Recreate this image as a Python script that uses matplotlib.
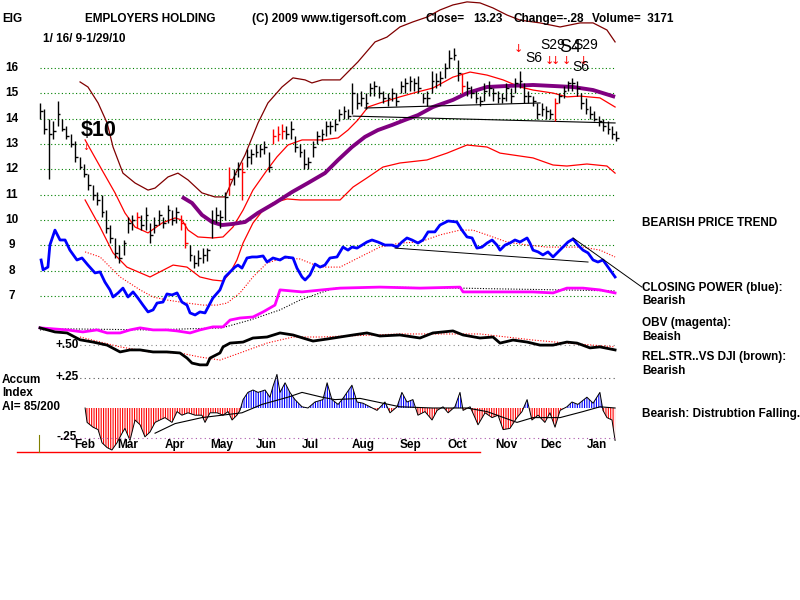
import numpy as np
import matplotlib
matplotlib.use("Agg")
import matplotlib.pyplot as plt

# ---- price bars, one every 2 trading days (day index, high, low, close)
bar_day = list(range(0, 264, 2))
bar_high = [14.6, 14.4, 14.0, 13.9, 14.7, 14.0, 13.7, 13.4, 13.1, 12.5, 12.2, 11.8, 11.4, 11.1, 11.0, 10.4,
            9.8, 9.3, 9.0, 9.2, 10.1, 10.2, 10.3, 10.2, 10.5, 9.9, 10.1, 10.4, 10.1, 10.6, 10.4, 10.5,
            10.2, 9.9, 9.0, 8.6, 8.8, 8.9, 8.9, 10.4, 10.5, 10.4, 11.1, 12.1, 12.0, 12.3, 12.3, 12.8,
            12.8, 13.0, 13.0, 13.1, 12.7, 13.6, 13.7, 13.8, 13.7, 13.9, 13.3, 13.0, 12.8, 12.5, 13.1, 13.5,
            13.6, 13.9, 13.9, 14.0, 14.4, 14.5, 14.4, 15.4, 15.0, 15.1, 15.0, 15.4, 15.5, 15.3, 15.1, 15.0,
            15.2, 15.0, 15.5, 15.6, 15.7, 15.6, 15.7, 15.0, 15.1, 15.9, 15.8, 15.9, 16.2, 16.7, 16.8, 16.3,
            15.8, 15.5, 15.3, 15.1, 14.9, 15.4, 15.5, 15.2, 15.1, 15.0, 15.4, 15.2, 15.6, 15.9, 15.4, 15.1,
            14.9, 14.6, 14.6, 14.5, 14.4, 14.8, 15.0, 15.3, 15.5, 15.6, 15.5, 15.0, 14.8, 14.5, 14.3, 14.1,
            14.0, 13.9, 13.7, 13.5]
bar_low = [14.0, 13.4, 11.6, 13.2, 13.7, 13.5, 13.2, 12.9, 12.3, 12.0, 11.7, 11.2, 10.8, 10.6, 10.1, 9.5,
           9.1, 8.5, 8.3, 8.6, 9.5, 9.6, 9.7, 9.6, 9.6, 9.1, 9.5, 9.8, 9.7, 9.9, 9.8, 9.9,
           9.6, 8.9, 8.4, 8.1, 8.2, 8.3, 8.4, 9.3, 9.9, 9.7, 10.0, 11.0, 11.4, 11.7, 10.8, 12.1,
           12.2, 12.5, 12.5, 12.6, 11.9, 13.0, 13.1, 13.2, 13.2, 13.2, 12.7, 12.5, 12.0, 12.0, 12.5, 13.0,
           13.1, 13.3, 13.4, 13.5, 13.9, 14.0, 14.0, 14.2, 14.4, 14.5, 14.4, 14.9, 14.9, 14.8, 14.6, 14.5,
           14.7, 14.5, 15.0, 15.0, 15.1, 15.1, 15.0, 14.6, 14.5, 15.0, 15.2, 15.3, 15.6, 16.0, 16.3, 15.5,
           15.0, 14.9, 14.8, 14.6, 14.5, 14.7, 14.9, 14.7, 14.6, 14.6, 14.7, 14.6, 15.0, 15.2, 14.6, 14.6,
           14.5, 14.0, 14.1, 14.0, 14.0, 13.9, 14.6, 14.8, 15.1, 15.1, 14.9, 14.4, 14.2, 14.0, 13.9, 13.7,
           13.5, 13.4, 13.2, 13.1]
bar_close = [14.3, 13.6, 13.4, 13.5, 14.2, 13.6, 13.3, 13.0, 12.5, 12.1, 11.8, 11.4, 11.0, 10.8, 10.3, 9.7,
             9.3, 8.7, 8.5, 9.1, 9.9, 10.0, 10.1, 9.8, 10.2, 9.4, 9.8, 10.2, 9.9, 10.4, 10.0, 10.3,
             9.9, 9.1, 8.6, 8.3, 8.5, 8.6, 8.8, 10.0, 10.2, 10.1, 10.9, 11.6, 11.8, 12.0, 11.9, 12.5,
             12.6, 12.7, 12.8, 12.9, 12.1, 13.3, 13.4, 13.5, 13.4, 13.6, 12.9, 12.7, 12.2, 12.3, 12.9, 13.3,
             13.4, 13.7, 13.7, 13.8, 14.2, 14.3, 14.1, 15.0, 14.6, 14.8, 14.6, 15.2, 15.3, 15.0, 14.8, 14.8,
             15.0, 14.7, 15.3, 15.4, 15.5, 15.4, 15.2, 14.8, 14.8, 15.5, 15.5, 15.6, 16.0, 16.4, 16.5, 15.8,
             15.3, 15.2, 15.0, 14.8, 14.7, 15.1, 15.2, 15.0, 14.8, 14.8, 15.2, 14.9, 15.4, 15.5, 14.9, 14.9,
             14.7, 14.2, 14.4, 14.3, 14.2, 14.6, 14.9, 15.1, 15.4, 15.4, 15.2, 14.6, 14.4, 14.2, 14.0, 13.9,
             13.7, 13.6, 13.4, 13.23]
red_bar_days = [44, 64, 66, 86, 92, 106, 108, 110, 192, 234]

# ---- bands and moving average on the price scale
upper_day = [18.2, 21.8, 26.4, 30.5, 33.2, 37.7, 43.2, 49.1, 52.3, 58.2, 62.7, 67.3, 73.6, 79.5, 84.1, 88.6,
             93.2, 99.1, 103.6, 110, 115, 120.5, 123.6, 128.2, 136.4, 144.5, 152.3, 157.7, 163.6, 169.5,
             175.9, 181.8, 187.7, 194.1, 200, 205.9, 212.3, 218.2, 227.3, 236.4, 245.5, 251.4, 257.7, 261.4]
upper_val = [15.45, 15.25, 14.62, 13.83, 12.88, 11.85, 11.46, 11.18, 11.26, 11.70, 11.85, 11.58, 11.07, 10.91,
             10.91, 11.78, 12.57, 13.83, 14.62, 15.25, 15.61, 15.53, 15.41, 15.53, 15.53, 16.24, 17.03, 17.22,
             17.62, 17.82, 18.01, 18.29, 18.49, 18.61, 18.57, 18.37, 18.09, 17.89, 17.78, 17.62, 17.78, 17.78,
             17.50, 17.03]
mid_day = [20.5, 28.2, 34.1, 38.6, 43.2, 49.1, 55.5, 61.4, 64.5, 67.3, 71.8, 78.6, 83.2, 87.7, 92.3, 96.8,
           103.2, 107.7, 112.7, 119.1, 128.2, 135.5, 140, 144.5, 149.1, 154.5, 163.6, 171.4, 178.6, 187.7,
           195.5, 203.2, 210.5, 218.2, 224.1, 233.2, 239.5, 245.5, 254.5, 261.4]
mid_val = [13.16, 11.97, 11.07, 10.28, 9.72, 9.49, 9.88, 10.08, 10.0, 9.60, 9.33, 9.29, 9.33, 9.72, 10.39,
           11.18, 11.97, 12.49, 12.96, 13.16, 13.16, 13.24, 13.55, 13.95, 14.46, 14.62, 14.86, 15.05, 15.21,
           15.64, 15.84, 15.72, 15.53, 15.25, 15.13, 15.01, 14.86, 14.89, 14.82, 14.46]
lower_day = [20.5, 27.3, 33.2, 39.5, 50, 60.5, 66.8, 72.7, 78.6, 83.2, 86.4, 89.5, 92.3, 96.8, 101.4, 105.9,
             112.3, 118.2, 136.4, 142.3, 148.6, 155.9, 163.6, 175.9, 185, 194.1, 203.2, 209.1, 224.1, 233.2,
             239.5, 248.6, 257.7, 261.4]
lower_val = [10.79, 9.72, 8.70, 8.14, 7.75, 8.22, 8.14, 7.75, 7.63, 7.59, 7.91, 8.42, 9.09, 9.88, 10.39, 10.67,
             10.83, 10.79, 10.79, 11.30, 11.66, 12.09, 12.25, 12.37, 12.64, 12.96, 12.88, 12.64, 12.45, 12.17,
             12.13, 12.21, 12.13, 11.85]
ma50_day = [64.5, 69.1, 73.6, 78.2, 82.7, 87.3, 93.2, 99.1, 106.8, 114.5, 121.8, 129.5, 135.5, 141.8, 147.7,
            153.6, 160, 165.9, 171.8, 178.6, 187.7, 194.1, 203.2, 212.3, 224.1, 233.2, 242.3, 251.4, 261.4]
ma50_val = [10.91, 10.67, 10.20, 9.92, 9.80, 9.84, 9.92, 10.28, 10.67, 11.10, 11.46, 11.85, 12.37, 12.88, 13.28,
            13.55, 13.75, 13.95, 14.14, 14.46, 14.74, 15.01, 15.25, 15.29, 15.33, 15.29, 15.25, 15.13, 14.86]
support_day = [[147.7, 227.3], [142.3, 261.4]]
support_val = [[14.42, 14.62], [14.10, 13.83]]

# ---- closing power (blue) and its average
cp_day = [0.5, 1.4, 3.6, 4.5, 6.8, 9.1, 11.4, 13.6, 16.8, 19.1, 21.8, 25, 27.3, 29.5, 31.8, 33.2, 35.5, 37.7,
          40, 42.3, 44.5, 46.8, 49.1, 51.4, 53.2, 55.9, 57.7, 60, 62.3, 64.5, 66.8, 68.2, 70.5, 72.7, 75, 76.4,
          78.6, 81.8, 84.1, 86.4, 88.6, 90, 91.8, 94.1, 96.4, 98.6, 101.4, 103.2, 105.9, 109.1, 111.4, 115,
          116.8, 119.1, 120.5, 122.7, 125, 127.3, 129.5, 131.8, 135, 137.7, 140, 141.8, 144.1, 146.4, 148.6,
          150.9, 153.6, 156.8, 160, 162.3, 164.5, 166.8, 169.1, 171.8, 174.1, 176.4, 179.5, 181.8, 185.5,
          189.5, 191.8, 194.1, 196.4, 198.6, 200.9, 203.2, 205.5, 207.7, 209.1, 211.4, 213.6, 215.9, 218.2,
          221.4, 222.7, 224.1, 226.4, 228.6, 230.9, 233.2, 235.5, 237.7, 240, 242.3, 244.5, 246.8, 249.1,
          251.4, 253.6, 255.9, 258.2, 261.4]
cp_val = [8.42, 8.03, 8.14, 9.01, 9.60, 9.21, 9.21, 8.81, 8.42, 8.50, 8.22, 7.91, 7.95, 7.55, 7.24, 6.96, 7.12,
          7.31, 6.96, 7.16, 6.92, 6.64, 6.37, 6.45, 6.72, 6.76, 7.08, 7.04, 7.12, 6.76, 6.64, 6.33, 6.25, 6.37,
          6.33, 6.56, 6.92, 7.24, 7.75, 7.95, 8.14, 8.22, 8.10, 8.50, 8.54, 8.54, 8.58, 8.34, 8.50, 8.42, 8.54,
          8.50, 8.10, 7.75, 7.63, 7.83, 8.26, 8.14, 8.22, 8.50, 8.54, 8.93, 8.81, 8.93, 8.89, 9.01, 9.13, 9.21,
          9.13, 9.01, 9.01, 8.93, 9.13, 9.29, 9.21, 9.09, 9.21, 9.53, 9.53, 9.80, 9.96, 9.92, 9.60, 9.33, 9.29,
          8.89, 8.93, 9.09, 9.21, 9.01, 8.81, 9.01, 9.09, 9.21, 9.13, 9.29, 9.09, 8.81, 8.74, 8.62, 8.74, 8.54,
          8.74, 8.93, 9.13, 9.25, 9.01, 8.81, 8.70, 8.42, 8.34, 8.42, 8.14, 7.75]
cp_ma_day = [20.5, 27.3, 36.4, 45.5, 51.4, 57.7, 66.8, 74.1, 80.5, 85, 90.9, 96.8, 103.2, 110.5, 118.2, 127.3,
             136.4, 145.5, 154.5, 163.6, 172.7, 181.8, 190.9, 196.8, 203.2, 212.3, 221.4, 230.5, 239.5, 246.8,
             254.5, 261.4]
cp_ma_val = [8.74, 8.54, 7.75, 7.24, 6.96, 6.84, 6.72, 6.64, 6.64, 6.72, 7.12, 7.75, 8.30, 8.50, 8.46, 8.14,
             8.14, 8.54, 8.93, 9.09, 9.13, 9.41, 9.60, 9.60, 9.41, 9.13, 9.01, 8.93, 8.93, 8.93, 8.81, 8.54]
cp_trend_day = [[161.4, 249.1], [242.3, 273.6]]
cp_trend_val = [[8.89, 8.34], [9.29, 7.35]]

# ---- OBV (magenta) and its average
obv_day = [0, 12.3, 19.5, 25.9, 30.5, 36.4, 40.9, 45.5, 51.4, 57.7, 62.3, 68.2, 72.7, 78.6, 83.2, 86.4, 90.9,
           96.8, 101.4, 106.8, 109.1, 119.1, 128.2, 136.4, 154.5, 172.7, 190.9, 192.3, 209.1, 224.1, 233.2,
           239.5, 246.8, 254.5, 261.4]
obv_val = [5.74, 5.66, 5.58, 5.66, 5.54, 5.54, 5.66, 5.74, 5.66, 5.66, 5.62, 5.54, 5.66, 5.78, 5.78, 6.05, 6.13,
           6.17, 6.37, 6.64, 7.24, 7.16, 7.24, 7.31, 7.35, 7.31, 7.35, 7.16, 7.16, 7.16, 7.12, 7.31, 7.31, 7.24,
           7.12]
obv_ma_day = [0, 13.6, 50, 82.7, 95.5, 109.1, 118.2, 127.3, 134, 154.5, 190.9, 209.1, 236.4, 261.4]
obv_ma_val = [5.66, 5.70, 5.66, 5.74, 6.05, 6.45, 6.84, 7.12, 7.31, 7.35, 7.31, 7.28, 7.24, 7.20]

# ---- relative strength vs DJI (black) and its average
rs_day = [0, 6.8, 12.3, 18.2, 24.1, 30.5, 36.4, 40.9, 45.5, 51.4, 57.7, 63.6, 66.8, 69.1, 72.7, 75.9, 77.3,
          81.8, 83.2, 86.4, 92.3, 96.8, 103.2, 109.1, 115, 119.5, 124.1, 130.5, 136.4, 142.3, 148.6, 154.5,
          163.6, 172.7, 178.6, 187.7, 192.3, 200, 205.9, 209.1, 215, 221.4, 227.3, 233.2, 239.5, 244.1, 250,
          254.5, 261.4]
rs_val = [5.74, 5.58, 5.54, 5.27, 5.18, 5.06, 4.79, 4.87, 4.87, 4.79, 4.79, 4.75, 4.55, 4.35, 4.28, 4.28, 4.55,
          4.75, 4.99, 5.14, 5.18, 5.34, 5.38, 5.54, 5.46, 5.34, 5.22, 5.30, 5.38, 5.46, 5.54, 5.42, 5.46, 5.34,
          5.54, 5.62, 5.46, 5.34, 5.38, 5.14, 5.26, 5.18, 5.06, 5.06, 5.18, 5.14, 4.95, 4.99, 4.87]
rs_ma_day = [18.2, 36.4, 50, 63.6, 72.7, 81.8, 90.9, 103.2, 115, 127.3, 163.6, 200, 224.1, 239.5, 261.4]
rs_ma_val = [5.38, 4.99, 4.79, 4.75, 4.59, 4.47, 4.75, 5.14, 5.38, 5.38, 5.50, 5.50, 5.26, 5.14, 4.99]

# ---- accumulation index (own scale) and its average
ai_day = [20.5, 21.4, 24.1, 26.4, 28.2, 30.5, 32.7, 35, 37.3, 38.6, 40.9, 43.2, 45.5, 47.7, 50, 52.3, 54.5,
          56.8, 60, 62.3, 64.5, 67.3, 70.5, 73.6, 75, 77.3, 80.5, 83.2, 85.5, 87.3, 89.5, 90.9, 92.3, 94.5,
          96.8, 99.1, 102.3, 104.5, 105.9, 107.7, 109.1, 111.4, 113.6, 115.9, 119.1, 121.8, 125, 128.6, 130.5,
          132.7, 135.5, 137.7, 141.8, 144.1, 146.8, 150, 153.2, 156.8, 159.1, 162.3, 164.5, 166.8, 169.5,
          171.8, 175, 178.2, 180.5, 183.2, 185.5, 188.6, 190.9, 192.3, 195.5, 197.7, 199.1, 202.3, 205.5,
          208.2, 210.5, 213.6, 216.8, 219.1, 221.4, 223.6, 226.4, 229.5, 231.8, 234.1, 236.4, 239.5, 241.8,
          244.5, 248.6, 251.4, 254.5, 255.9, 257.7, 260, 261.4]
ai_val = [0, -0.12, -0.16, -0.18, -0.29, -0.33, -0.35, -0.29, -0.21, -0.17, -0.27, -0.10, -0.14, -0.24, -0.20,
          -0.12, -0.10, -0.08, -0.12, -0.03, -0.06, -0.04, -0.06, -0.06, -0.12, -0.04, -0.04, -0.06, -0.03,
          -0.10, -0.06, -0.02, 0.07, 0.13, 0.15, 0.13, 0.15, 0.09, 0.18, 0.28, 0.13, 0.21, 0.13, 0.07, 0.01, 0,
          0.05, 0.07, 0.21, 0.07, 0.03, 0.08, 0.19, 0.05, 0.04, 0.01, -0.02, 0.05, -0.04, 0.01, 0.13, 0.05,
          0.07, -0.06, -0.03, -0.10, -0.02, 0.01, -0.04, 0.01, 0.13, -0.02, 0.01, -0.08, -0.14, -0.04, -0.08,
          -0.06, -0.18, -0.17, -0.08, -0.03, 0.07, -0.10, -0.06, -0.12, -0.04, -0.16, -0.02, 0.01, 0.05, 0.03,
          0.09, 0.04, 0.13, -0.02, -0.08, -0.10, -0.27]
ai_ma_day = [52.3, 61.4, 73.6, 82.7, 91.8, 100.9, 112.7, 119.1, 128.2, 134, 145.5, 163.6, 178.6, 194.1, 203.2,
             216.8, 224.1, 236.4, 246.8, 254.5, 261.4]
ai_ma_val = [-0.21, -0.13, -0.08, -0.06, -0.04, 0.03, 0.09, 0.13, 0.09, 0.07, 0.08, 0.01, 0, 0, -0.03, -0.12,
             -0.08, -0.08, -0.03, 0.01, 0]

price_levels = [16, 15, 14, 13, 12, 11, 10, 9, 8, 7]
month_names = ["Feb", "Mar", "Apr", "May", "Jun", "Jul", "Aug", "Sep", "Oct", "Nov", "Dec", "Jan"]
month_day = [20.5, 40, 61.4, 82.7, 103, 122.7, 147, 168.6, 189.5, 211.8, 232.3, 253]

W, H = 800, 600
fig = plt.figure(figsize=(8, 6), dpi=100)
fig.patch.set_facecolor("white")

# main axes covers the figure: 2.2 px per day, 25.33 px per dollar
ax = fig.add_axes([0, 0, 1, 1])
ax.set_xlim(-40 / 2.2, 760 / 2.2)
ax.set_ylim(16 - 532 / 25.33, 16 + 68 / 25.33)
ax.axis("off")

acc = fig.add_axes([0, 0, 1, 1])
acc.set_xlim(-40 / 2.2, 760 / 2.2)
acc.set_ylim(-192 / 120, 408 / 120)
acc.axis("off")
acc.patch.set_alpha(0)

FONT = dict(family=["Liberation Sans", "DejaVu Sans"], weight="bold", size=8.5)


def ftext(x, y, s, **kw):
    opts = dict(FONT)
    opts.update(kw)
    fig.text(x / W, 1 - y / H, s, va="center", **opts)


dots = (0, (1, 2.2))
ax.hlines(price_levels, 0, 262, colors="#008000", linestyles=dots, lw=0.8)
for p in price_levels:
    ax.text(-12.7, p, str(p), ha="center", va="center", **FONT)

# bands
ax.plot(upper_day, upper_val, color="#800000", lw=0.9)
ax.plot(mid_day, mid_val, color="red", lw=0.9)
ax.plot(lower_day, lower_val, color="red", lw=0.9)
ax.plot(ma50_day, ma50_val, color="#800080", lw=2.8, solid_capstyle="butt")
for xs, ys in zip(support_day, support_val):
    ax.plot(xs, ys, color="black", lw=0.8)

# price bars
cols = ["red" if d in red_bar_days else "black" for d in bar_day]
ax.vlines(bar_day, bar_low, bar_high, colors=cols, lw=1.0)
ax.hlines(bar_close, np.array(bar_day), np.array(bar_day) + 1.3, colors=cols, lw=1.0)

# closing power
ax.plot(cp_ma_day, cp_ma_val, color="red", lw=0.8, ls=(0, (1, 1.5)))
ax.plot(cp_day, cp_val, color="#0000ff", lw=2.0)
for xs, ys in zip(cp_trend_day, cp_trend_val):
    ax.plot(xs, ys, color="black", lw=0.7)

# OBV
ax.plot(obv_ma_day, obv_ma_val, color="black", lw=0.8, ls=(0, (1, 1.5)))
ax.plot(obv_day, obv_val, color="#ff00ff", lw=2.0)

# relative strength
ax.hlines(5.05, 10, 262, colors="#888888", linestyles=(0, (1, 3)), lw=0.8)
ax.plot(rs_ma_day, rs_ma_val, color="red", lw=0.8, ls=(0, (1, 1.5)))
ax.plot(rs_day, rs_val, color="black", lw=2.0)

# accumulation index
ai_d = np.array(ai_day)
ai_v = np.array(ai_val)
plt.rcParams["hatch.linewidth"] = 0.8
acc.fill_between(ai_d, ai_v, 0, where=ai_v <= 0, interpolate=True, facecolor="none",
                 edgecolor="red", hatch="|" * 7, lw=0)
acc.fill_between(ai_d, ai_v, 0, where=ai_v >= 0, interpolate=True, facecolor="none",
                 edgecolor="#0000ff", hatch="|" * 7, lw=0)
acc.plot(ai_d, ai_v, color="black", lw=0.7)
acc.plot(ai_ma_day, ai_ma_val, color="black", lw=0.8)
acc.hlines(0.25, 10, 262, colors="#555555", linestyles=(0, (1, 3)), lw=0.8)
acc.hlines(-0.25, 10, 262, colors="#aa55aa", linestyles=(0, (1, 3)), lw=0.8)

# month labels and bottom rule
for name, d in zip(month_names, month_day):
    ax.text(d, 16 - 377 / 25.33, name, ha="center", va="center", **FONT)
ax.plot([-10.45, 200], [16 - 384 / 25.33] * 2, color="red", lw=1.0)
ax.plot([-0.45, -0.45], [16 - 367 / 25.33, 16 - 384 / 25.33], color="#808000", lw=0.8)

# header
ftext(2, 19, "EIG")
ftext(85, 19, "EMPLOYERS HOLDING")
ftext(252, 19, "(C) 2009 www.tigersoft.com")
ftext(425, 19, "Close=")
ftext(473, 19, "13.23")
ftext(513, 19, "Change=-.28")
ftext(592, 19, "Volume=  3171")
ftext(43, 39, "1/ 16/ 9-1/29/10")

# chart annotations
ftext(81, 130, "$10", size=15.5)
ftext(82, 147, "\u2193", color="red", weight="normal", size=6, family="DejaVu Sans")
ftext(514, 49, "\u2193", color="red", weight="normal", size=8, family="DejaVu Sans")
for x in (545, 551, 562, 579):
    ftext(x, 61, "\u2193", color="red", weight="normal", size=8, family="DejaVu Sans")
ftext(525, 58, "S6", weight="normal", size=10)
ftext(540, 45, "S29", weight="normal", size=10)
ftext(559, 47, "S4", weight="normal", size=13)
ftext(573, 45, "S29", weight="normal", size=10)
ftext(572, 67, "S6", weight="normal", size=10)

# left labels
ftext(55, 345, "+.50")
ftext(55, 377, "+.25")
ftext(57, 437, "-.25")
ftext(2, 380, "Accum")
ftext(2, 393, "Index")
ftext(2, 407, "AI= 85/200")

# right panel notes
ftext(642, 223, "BEARISH PRICE TREND")
ftext(642, 288, "CLOSING POWER (blue):")
ftext(642, 301, "Bearish")
ftext(642, 323, "OBV (magenta):")
ftext(642, 337, "Beaish")
ftext(642, 357, "REL.STR..VS DJI (brown):")
ftext(642, 371, "Bearish")
ftext(642, 414, "Bearish: Distrubtion Falling.")

fig.savefig("out.png", dpi=100, facecolor="white")
